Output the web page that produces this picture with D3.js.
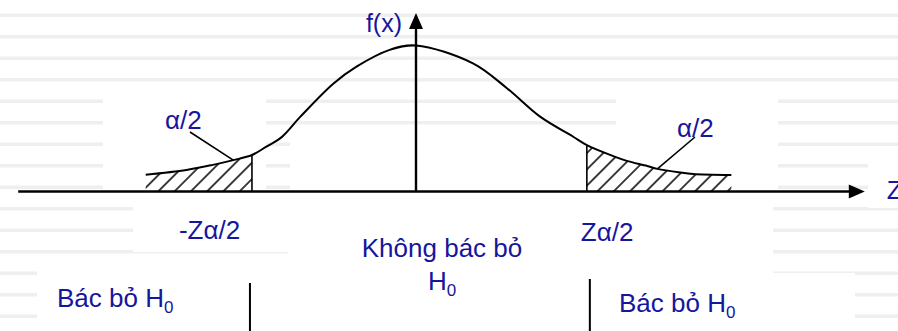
<!DOCTYPE html>
<html>
<head>
<meta charset="utf-8">
<script src="https://cdn.jsdelivr.net/npm/d3@7/dist/d3.min.js"></script>
<style>
body { margin: 0; background: #fff; }
text { font-family: "Liberation Sans", Arial, sans-serif; fill: #16169c; }
</style>
</head>
<body>
<svg id="chart" width="898" height="331"></svg>
<script>
// Density curve (z value, f(z))
var curveZ = [-3.18, -2.70, -2.39, -2.15, -1.93, -1.76, -1.58, -1.36, -0.97, -0.70, -0.31, 0, 0.67, 1.07, 1.46, 1.85, 2.01, 2.32, 2.48, 2.72, 2.84, 3.11, 3.26, 3.71];
var curveF = [0.046, 0.059, 0.073, 0.086, 0.100, 0.123, 0.149, 0.205, 0.296, 0.342, 0.388, 0.400, 0.351, 0.283, 0.205, 0.150, 0.127, 0.097, 0.084, 0.070, 0.062, 0.052, 0.048, 0.045];

// critical values (left / right)
var critZ = [-1.93, 2.01];
// axis extent
var axisZ = [-4.68, 5.28];
var axisFMax = 0.489;

// texts
var alphaLabel = "α/2";
var critLabels = ["-Zα/2", "Zα/2"];
var rejectLabel = "Bác bỏ H";
var acceptLabel = "Không bác bỏ";

var W = 898, H = 331;
var svg = d3.select("#chart");

var x = d3.scaleLinear().domain([-5, 5]).range([-9, 841]);
var y = d3.scaleLinear().domain([0, 0.4]).range([191.5, 45.5]);

var pts = curveZ.map(function(z, i){ return {z: z, f: curveF[i]}; });
function fAt(z){ return pts.find(function(d){ return d.z === z; }).f; }

//////// background: slide stripes + white text boxes ////////
var bg = svg.append("g");
bg.selectAll("rect.stripe")
  .data(d3.range(15, H, 21.5))
  .enter().append("rect")
  .attr("x", 0).attr("y", function(d){ return d - 1.5; })
  .attr("width", W).attr("height", 3.5)
  .attr("fill", "#efefef");
// white boxes [x0,y0,x1,y1]
var boxes = [[103,97,266,189],[290,140,616,189],[616,97,778,189],[288,189,773,331],
             [133,198,288,252],[37,262,290,331],[773,273,855,331],[868,163,898,208]];
bg.selectAll("rect.box")
  .data(boxes)
  .enter().append("rect")
  .attr("x", function(d){ return d[0]; }).attr("y", function(d){ return d[1]; })
  .attr("width", function(d){ return d[2]-d[0]; }).attr("height", function(d){ return d[3]-d[1]; })
  .attr("fill", "#fff");

//////// hatch pattern ////////
var pat = svg.append("defs").append("pattern")
  .attr("id", "hatch")
  .attr("patternUnits", "userSpaceOnUse")
  .attr("width", 11.5).attr("height", 11.5)
  .attr("patternTransform", "rotate(45)");
pat.append("line")
  .attr("x1", 5.75).attr("y1", 0).attr("x2", 5.75).attr("y2", 11.5)
  .attr("stroke", "#000").attr("stroke-width", 1.5);

var area = d3.area()
  .x(function(d){ return x(d.z); })
  .y0(y(0))
  .y1(function(d){ return y(d.f); })
  .curve(d3.curveCatmullRom);

svg.append("path")
  .datum(pts.filter(function(d){ return d.z <= critZ[0]; }))
  .attr("d", area).attr("fill", "url(#hatch)");
svg.append("path")
  .datum(pts.filter(function(d){ return d.z >= critZ[1]; }))
  .attr("d", area).attr("fill", "url(#hatch)");

//////// curve ////////
var line = d3.line()
  .x(function(d){ return x(d.z); })
  .y(function(d){ return y(d.f); })
  .curve(d3.curveCatmullRom);
svg.append("path").datum(pts)
  .attr("d", line).attr("fill", "none")
  .attr("stroke", "#000").attr("stroke-width", 2);

// critical lines
svg.selectAll("line.crit")
  .data(critZ)
  .enter().append("line")
  .attr("x1", function(d){ return x(d); }).attr("x2", function(d){ return x(d); })
  .attr("y1", y(0)).attr("y2", function(d){ return y(fAt(d)); })
  .attr("stroke", "#000").attr("stroke-width", 1.6);

//////// axes ////////
var x0 = x(axisZ[0]), x1 = x(axisZ[1]), y0 = y(0), yTop = y(axisFMax);
svg.append("line")
  .attr("x1", x0).attr("x2", x1 - 12).attr("y1", y0).attr("y2", y0)
  .attr("stroke", "#000").attr("stroke-width", 2.6);
svg.append("path")
  .attr("d", "M" + x1 + "," + y0 + "L" + (x1 - 16) + "," + (y0 - 7) + "L" + (x1 - 16) + "," + (y0 + 7) + "Z")
  .attr("fill", "#000");
svg.append("line")
  .attr("x1", x(0)).attr("x2", x(0)).attr("y1", y0).attr("y2", yTop + 12)
  .attr("stroke", "#000").attr("stroke-width", 2.4);
svg.append("path")
  .attr("d", "M" + x(0) + "," + yTop + "L" + (x(0) - 7) + "," + (yTop + 16) + "L" + (x(0) + 7) + "," + (yTop + 16) + "Z")
  .attr("fill", "#000");

//////// labels ////////
var fs = 26, sub = 17;
svg.append("text").attr("x", x(0) - 14).attr("y", yTop + 19)
  .attr("text-anchor", "end").attr("font-size", 25).text("f(x)");
svg.append("text").attr("x", x1 + 22).attr("y", y0 + 7)
  .attr("font-size", fs).text("Z");

// alpha/2 labels with leader lines
var alphaPos = [{z: -2.15, lx: 165, ly: 129, sx: 190, sy: 132},
                {z: 2.84, lx: 677, ly: 137, sx: 695, sy: 137}];
svg.selectAll("text.alpha")
  .data(alphaPos)
  .enter().append("text")
  .attr("x", function(d){ return d.lx; }).attr("y", function(d){ return d.ly; })
  .attr("font-size", fs).text(alphaLabel);
svg.selectAll("line.lead")
  .data(alphaPos)
  .enter().append("line")
  .attr("x1", function(d){ return d.sx; }).attr("y1", function(d){ return d.sy; })
  .attr("x2", function(d){ return x(d.z); }).attr("y2", function(d){ return y(fAt(d.z)); })
  .attr("stroke", "#000").attr("stroke-width", 1.6);

// critical value labels
svg.append("text").attr("x", x(critZ[0]) - 73).attr("y", 239)
  .attr("font-size", fs).text(critLabels[0]);
svg.append("text").attr("x", x(critZ[1]) - 6).attr("y", 241)
  .attr("font-size", fs).text(critLabels[1]);

// acceptance region
svg.append("text").attr("x", 442).attr("y", 257)
  .attr("text-anchor", "middle").attr("font-size", fs).text(acceptLabel);
var h0 = svg.append("text").attr("x", 442).attr("y", 289.5)
  .attr("text-anchor", "middle").attr("font-size", fs);
h0.append("tspan").text("H");
h0.append("tspan").attr("font-size", sub).attr("dy", 6).text("0");

// rejection regions
[{tx: 57, ty: 307}, {tx: 619, ty: 312}].forEach(function(p){
  var t = svg.append("text").attr("x", p.tx).attr("y", p.ty).attr("font-size", fs);
  t.append("tspan").text(rejectLabel);
  t.append("tspan").attr("font-size", sub).attr("dy", 6).text("0");
});

// dividers
svg.append("line").attr("x1", x(critZ[0]) - 2).attr("x2", x(critZ[0]) - 2)
  .attr("y1", 283).attr("y2", H).attr("stroke", "#000").attr("stroke-width", 2);
svg.append("line").attr("x1", x(critZ[1]) + 3).attr("x2", x(critZ[1]) + 3)
  .attr("y1", 279).attr("y2", H).attr("stroke", "#000").attr("stroke-width", 2);
</script>
</body>
</html>
